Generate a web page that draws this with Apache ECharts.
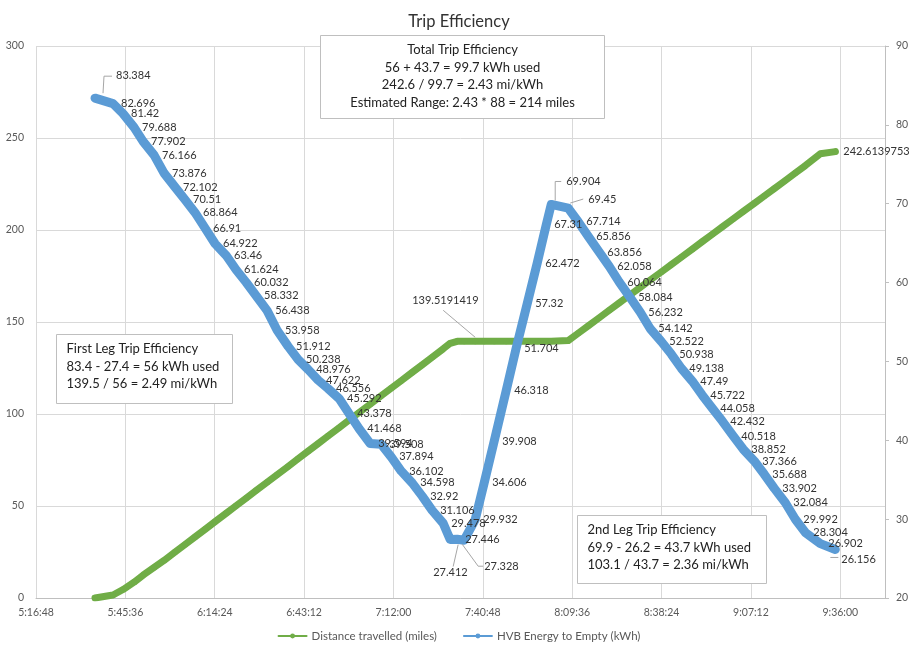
<!DOCTYPE html>
<html>
<head>
<meta charset="utf-8">
<title>Trip Efficiency</title>
<script src="https://cdn.jsdelivr.net/npm/echarts@6/dist/echarts.min.js"></script>
<style>
    html, body { margin: 0; padding: 0; background: #fff; }
    #chart { width: 918px; height: 655px; }
</style>
</head>
<body>
<div id="chart"></div>
<script>
// =====================================
// Data (read off the logger export)
// =====================================

const times = [
    "5:35:49", "5:41:37", "5:44:51", "5:48:24", "5:51:18", "5:54:51",
    "5:58:04", "6:01:37", "6:04:50", "6:08:04", "6:11:17", "6:14:31",
    "6:18:03", "6:21:17", "6:24:30", "6:27:44", "6:31:17", "6:34:30",
    "6:38:03", "6:41:16", "6:44:30", "6:47:43", "6:50:56", "6:54:29",
    "6:57:43", "7:00:56", "7:04:29", "7:08:02", "7:11:15", "7:14:29",
    "7:18:01", "7:21:15", "7:24:28", "7:28:01", "7:30:16", "7:32:32",
    "7:34:47", "7:38:20", "7:41:14", "7:44:28", "7:48:20", "7:51:33",
    "7:55:06", "7:58:19", "8:01:13", "8:02:50", "8:08:19", "8:11:32",
    "8:14:46", "8:18:19", "8:21:32", "8:24:46", "8:28:18", "8:31:32",
    "8:34:45", "8:38:18", "8:41:31", "8:44:45", "8:48:18", "8:51:31",
    "8:54:45", "8:57:58", "9:01:31", "9:04:44", "9:08:17", "9:11:30",
    "9:14:44", "9:18:17", "9:21:30", "9:24:44", "9:29:34", "9:34:24"
];

// HVB Energy to Empty (kWh)
const energy = [
    83.384, 82.696, 81.42, 79.688, 77.902, 76.166,
    73.876, 72.102, 70.51, 68.864, 66.91, 64.922,
    63.46, 61.624, 60.032, 58.332, 56.438, 53.958,
    51.912, 50.238, 48.976, 47.622, 46.556, 45.292,
    43.378, 41.468, 39.594, 39.508, 37.894, 36.102,
    34.598, 32.92, 31.106, 29.478, 27.412, 27.446,
    27.328, 29.932, 34.606, 39.908, 46.318, 51.704,
    57.32, 62.472, 67.31, 69.904, 69.45, 67.714,
    65.856, 63.856, 62.058, 60.064, 58.084, 56.232,
    54.142, 52.522, 50.938, 49.138, 47.49, 45.722,
    44.058, 42.432, 40.518, 38.852, 37.366, 35.688,
    33.902, 32.084, 29.992, 28.304, 26.902, 26.156
];

// Distance travelled (miles)
const distance = [
    0, 1.6, 4.6, 8.6, 12.4, 16.6,
    20.4, 25.0, 29.1, 33.2, 37.3, 41.5,
    46.0, 50.1, 54.2, 58.4, 62.9, 67.0,
    71.5, 75.7, 79.8, 83.9, 88.0, 92.5,
    96.7, 100.8, 105.3, 109.9, 114.0, 118.1,
    122.6, 126.7, 130.9, 135.4, 138.4, 139.5191419,
    139.5191419, 139.5191419, 139.5191419, 139.5191419, 139.5191419, 139.5191419,
    139.5191419, 139.5191419, 139.5191419, 139.5191419, 139.9, 143.9,
    147.9, 152.3, 156.4, 160.4, 164.8, 168.8,
    172.8, 177.2, 181.2, 185.2, 189.6, 193.7,
    197.7, 201.7, 206.1, 210.1, 214.5, 218.5,
    222.5, 226.9, 231.0, 235.0, 241.4, 242.6139753
];

// which distance points carry a value label
const distanceLabelled = [37, 71];

// =====================================
// Helpers
// =====================================

function toSeconds(text) {
    const parts = text.split(":").map(Number);
    return parts[0] * 3600 + parts[1] * 60 + parts[2];
}

function pad(n) {
    return n < 10 ? "0" + n : "" + n;
}

function toClock(sec) {
    const h = Math.floor(sec / 3600);
    const m = Math.floor((sec % 3600) / 60);
    const s = Math.round(sec % 60);
    return h + ":" + pad(m) + ":" + pad(s);
}

// labels moved off their point, with an Excel style leader line
// (leader points are offsets from the data point, in px)
const moved = {
    "0-37": { dx: -71, dy: -41, line: [[-32, -31], [0, -4]] },
    "1-0": { dx: 13, dy: -23, line: [[8, -5], [9, -22], [17, -22]] },
    "1-34": { dx: -25, dy: 33, line: [[8, 5], [3, 27]] },
    "1-36": { dx: 12, dy: 26, line: [[-2, 4], [14, 26], [19, 26]] },
    "1-45": { dx: 7, dy: -23, line: [[4, -4], [4, -23], [10, -23]] },
    "1-46": { dx: 12, dy: -9, line: [[2, -5], [15, -9]] },
    "1-71": { dx: -2, dy: 10, line: [[-5, 8], [3, 8]] }
};

const FONT = "Lato";
const labelStyle = {
    color: "#333",
    fontSize: 11,
    fontFamily: FONT
};

const distanceData = times.map((t, i) => {
    const item = {
        value: [toSeconds(t), distance[i]]
    };
    if (distanceLabelled.indexOf(i) >= 0) {
        item.label = { show: true };
    }
    return item;
});

const energyData = times.map((t, i) => ({
    value: [toSeconds(t), energy[i]]
}));

// =====================================
// Chart
// =====================================

const chart = echarts.init(
    document.getElementById("chart"),
    null,
    { renderer: "canvas" }
);

function box(left, top, width, height, text, align) {
    return {
        type: "group",
        left: left,
        top: top,
        z: 100,
        children: [
            {
                type: "rect",
                z: 100,
                shape: { x: 0, y: 0, width: width, height: height },
                style: { fill: "#fff", stroke: "#bfbfbf", lineWidth: 1 }
            },
            {
                type: "text",
                z: 101,
                x: align === "center" ? width / 2 : 10,
                y: 6,
                style: {
                    text: text,
                    fill: "#222",
                    font: "13px " + FONT,
                    lineHeight: 17.5,
                    align: align
                }
            }
        ]
    };
}

const boxes = [
    box(320, 35, 284, 83,
        "Total Trip Efficiency\n56 + 43.7 = 99.7 kWh used\n242.6 / 99.7 = 2.43 mi/kWh\nEstimated Range: 2.43 * 88 = 214 miles",
        "center"),
    box(56, 334, 176, 69,
        "First Leg Trip Efficiency\n83.4 - 27.4 = 56 kWh used\n139.5 / 56 = 2.49 mi/kWh",
        "left"),
    box(577, 515, 189, 68,
        "2nd Leg Trip Efficiency\n69.9 - 26.2 = 43.7 kWh used\n103.1 / 43.7 = 2.36 mi/kWh",
        "left")
];

const option = {
    animation: false,
    backgroundColor: "#fff",
    textStyle: { fontFamily: FONT },
    title: {
        text: "Trip Efficiency",
        left: "center",
        top: 8,
        textStyle: {
            color: "#333",
            fontSize: 16.5,
            fontWeight: "normal",
            fontFamily: FONT
        }
    },
    grid: {
        left: 36,
        right: 33,
        top: 46,
        bottom: 57
    },
    legend: {
        bottom: 8,
        left: "center",
        itemWidth: 28,
        itemHeight: 6,
        itemGap: 26,
        textStyle: {
            color: "#595959",
            fontSize: 11.5,
            fontFamily: FONT
        },
        data: ["Distance travelled (miles)", "HVB Energy to Empty (kWh)"]
    },
    xAxis: {
        type: "value",
        min: 19008,
        max: 35424,
        interval: 1728,
        axisLine: { show: true, lineStyle: { color: "#bfbfbf" } },
        axisTick: { show: false },
        splitLine: { show: true, lineStyle: { color: "#d9d9d9" } },
        axisLabel: {
            color: "#595959",
            fontSize: 10.5,
            margin: 9,
            showMaxLabel: false,
            formatter: toClock
        }
    },
    yAxis: [
        {
            type: "value",
            min: 0,
            max: 300,
            interval: 50,
            axisLine: { show: false },
            axisTick: { show: false },
            splitLine: { show: true, lineStyle: { color: "#d9d9d9" } },
            axisLabel: { color: "#595959", fontSize: 10.5, margin: 12 }
        },
        {
            type: "value",
            position: "right",
            min: 20,
            max: 90,
            interval: 10,
            axisLine: { show: true, lineStyle: { color: "#bfbfbf" } },
            axisTick: { show: true, length: 4, lineStyle: { color: "#bfbfbf" } },
            splitLine: { show: false },
            axisLabel: { color: "#595959", fontSize: 10.5, margin: 11 }
        }
    ],
    series: [
        {
            name: "Distance travelled (miles)",
            type: "line",
            yAxisIndex: 0,
            data: distanceData,
            color: "#70ad47",
            symbol: "circle",
            symbolSize: 6,
            lineStyle: { width: 7, cap: "round", join: "round" },
            label: {
                show: false,
                position: "right",
                distance: 5,
                formatter: p => String(p.value[1]),
                ...labelStyle
            },
            labelLayout: p => moved["0-" + p.dataIndex] || {},
            z: 2
        },
        {
            name: "HVB Energy to Empty (kWh)",
            type: "line",
            yAxisIndex: 1,
            data: energyData,
            color: "#5b9bd5",
            symbol: "circle",
            symbolSize: 6,
            lineStyle: { width: 9, cap: "round", join: "round" },
            label: {
                show: true,
                position: "right",
                distance: 5,
                formatter: p => String(p.value[1]),
                ...labelStyle
            },
            labelLayout: p => moved["1-" + p.dataIndex] || {},
            z: 3
        }
    ],
    graphic: boxes
};

chart.setOption(option);

// =====================================
// Leader lines, anchored on the data points through the axes
// =====================================

const leaders = Object.keys(moved).map(key => {
    const parts = key.split("-").map(Number);
    const list = parts[0] === 0 ? distanceData : energyData;
    const p = chart.convertToPixel(
        { seriesIndex: parts[0] },
        list[parts[1]].value
    );
    return {
        type: "polyline",
        silent: true,
        z: 50,
        shape: {
            points: moved[key].line.map(o => [p[0] + o[0], p[1] + o[1]])
        },
        style: { stroke: "#a6a6a6", lineWidth: 1, fill: null }
    };
});

option.graphic = boxes.concat(leaders);
chart.setOption(option);

window.addEventListener("resize", () => chart.resize());
</script>
</body>
</html>
